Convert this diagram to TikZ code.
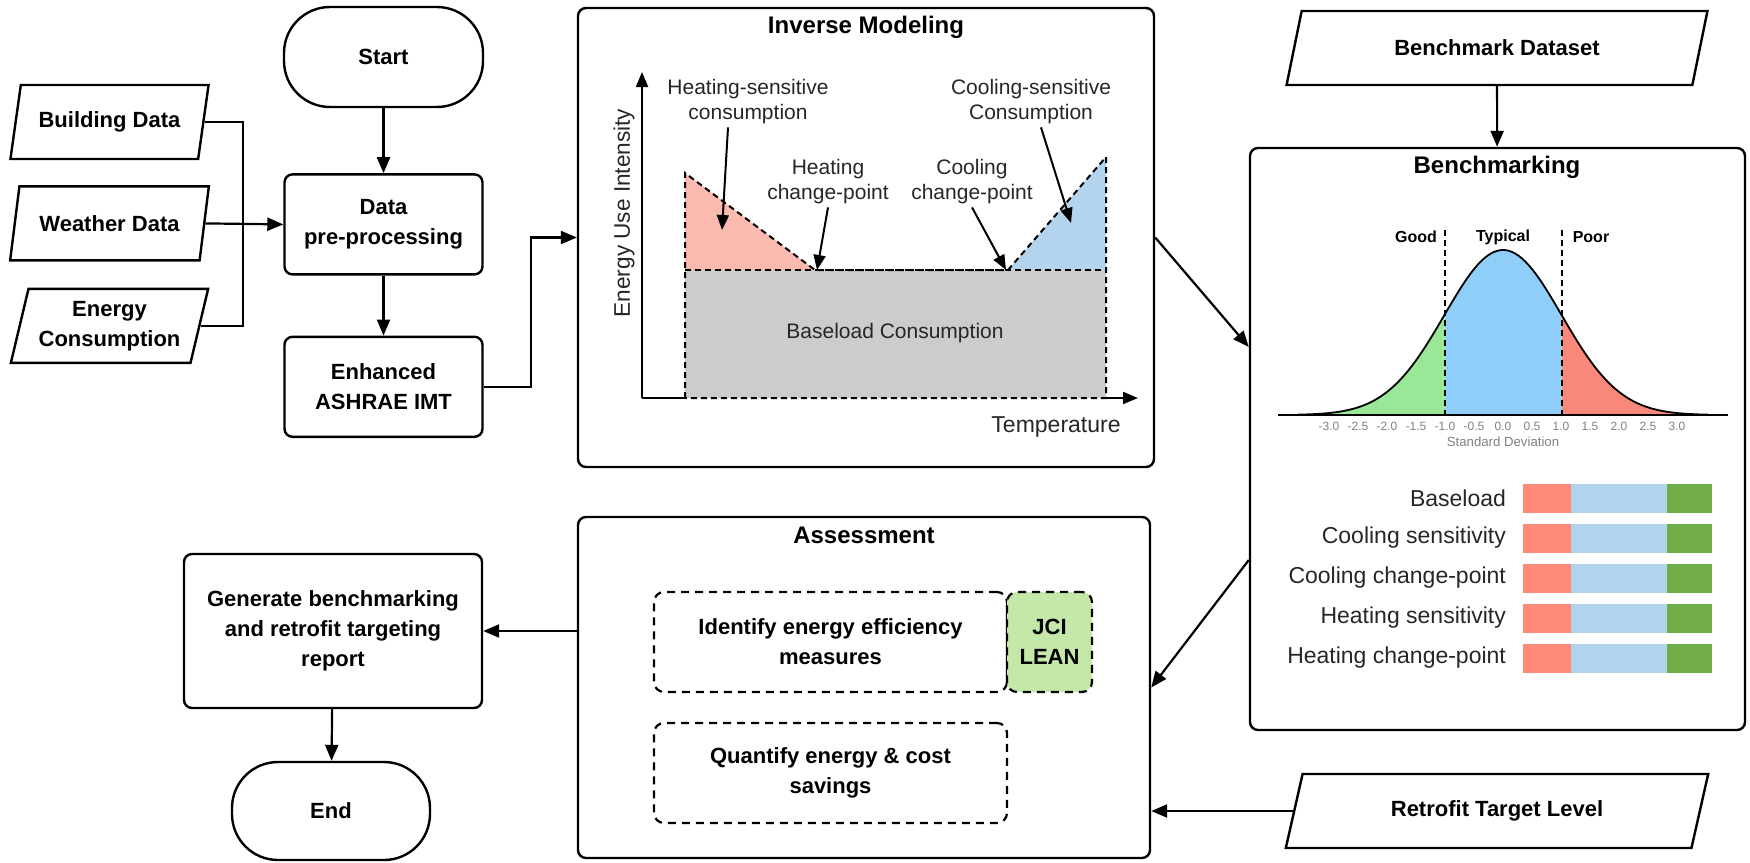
\documentclass[tikz,border=0pt]{standalone}
\usepackage{fontspec}
\setmainfont{Liberation Sans}
\usetikzlibrary{shapes.geometric, arrows.meta, positioning}

\definecolor{heatfill}{RGB}{250,186,176}
\definecolor{coolfill}{RGB}{180,212,238}
\definecolor{basefill}{RGB}{204,204,204}
\definecolor{goodfill}{RGB}{152,232,152}
\definecolor{typfill}{RGB}{144,206,250}
\definecolor{poorfill}{RGB}{248,136,122}
\definecolor{barred}{RGB}{255,138,122}
\definecolor{barblue}{RGB}{176,212,236}
\definecolor{bargreen}{RGB}{112,173,71}
\definecolor{leanfill}{RGB}{197,232,168}

\begin{document}
\begin{tikzpicture}[
  x=0.5pt, y=-0.5pt,
  line width=1.1pt,
  declare function={bell(\t)=415-165*exp(-0.5*(\t)*(\t));},
  every node/.style={align=center, font=\fontsize{11}{15}\selectfont\bfseries},
  terminal/.style={draw, line width=1.2pt, rounded corners=23pt, minimum width=99.5pt, minimum height=50pt},
  process/.style={draw, line width=1.2pt, rounded corners=4pt, minimum width=99pt, minimum height=50pt},
  datain/.style={draw, line width=1.2pt, trapezium, trapezium stretches=true, trapezium left angle=75, trapezium right angle=105, minimum width=99.5pt, minimum height=37pt},
  panel/.style={draw, line width=1.2pt, rounded corners=4pt},
  paneltitle/.style={font=\fontsize{12}{14}\selectfont\bfseries},
  subtask/.style={draw, dash pattern=on 4pt off 3pt, rounded corners=5pt, minimum width=176.5pt, minimum height=50pt},
  chartlabel/.style={font=\fontsize{10.5}{12.5}\selectfont, text=black!85, inner sep=1pt},
  rowlabel/.style={font=\fontsize{11.5}{13}\selectfont, text=black!85, anchor=east, inner sep=1pt},
  ticklabel/.style={font=\fontsize{6}{7}\selectfont, text=black!50, inner sep=0pt},
  arrow/.style={-{Triangle[length=8pt, width=6.5pt]}},
  chartarrow/.style={line width=1pt, -{Triangle[length=7.5pt, width=6pt]}},
  dashline/.style={line width=1pt, dash pattern=on 3pt off 2pt}
]
\useasboundingbox (0,0) rectangle (1750,862);

% left column
\node[terminal] (start) at (383.5,57) {Start};
\node[process, below=32.5pt of start] (prep) {Data\\pre-processing};
\node[process, below=30pt of prep] (imt) {Enhanced\\ASHRAE IMT};

\node[datain] (bdata) at (109.5,122) {Building Data};
\node[datain, below=12.5pt of bdata] (wdata) {Weather Data};
\node[datain, below=13pt of wdata] (edata) {Energy\\Consumption};

% inverse modeling
\node[panel, minimum width=288pt, minimum height=229.5pt] (invbox) at (866,237.5) {};
\node[paneltitle] (invtitle) at (866,27) {Inverse Modeling};

\fill[basefill] (685,270) rectangle (1106,398);
\fill[heatfill] (685,173) -- (815,270) -- (685,270) -- cycle;
\fill[coolfill] (1008,270) -- (1106,157) -- (1106,270) -- cycle;
\draw[dashline] (685,398) -- (685,173) -- (815,270) -- (1008,270) -- (1106,157) -- (1106,398) -- cycle;
\draw[dashline] (685,270) -- (1106,270);

\coordinate (origin) at (642,398);
\draw[chartarrow] (origin) -- (642,72);
\draw (origin) -- (685,398);
\draw[chartarrow] (1106,398) -- (1138,398);

\node[chartlabel, font=\fontsize{11.3}{13}\selectfont, rotate=90] (eui) at (624,213) {Energy Use Intensity};
\node[chartlabel, font=\fontsize{11.5}{13}\selectfont] (temp) at (1056,427) {Temperature};
\node[chartlabel] (base) at (895,333) {Baseload Consumption};
\node[chartlabel] (hsens) at (748,102) {Heating-sensitive\\consumption};
\node[chartlabel] (hcp) at (828,182) {Heating\\change-point};
\node[chartlabel] (ccp) at (972,182) {Cooling\\change-point};
\node[chartlabel] (csens) at (1031,102) {Cooling-sensitive\\Consumption};
\coordinate (hsenstip) at (722,230);
\coordinate (hcptip) at (817,270);
\coordinate (ccptip) at (1006,270);
\coordinate (csenstip) at (1071,223);
\draw[chartarrow] ([xshift=-10pt]hsens.south) -- (hsenstip);
\draw[chartarrow] (hcp.south) -- (hcptip);
\draw[chartarrow] (ccp.south) -- (ccptip);
\draw[chartarrow] ([xshift=5pt]csens.south) -- (csenstip);

% benchmarking
\node[datain, trapezium left angle=74, trapezium right angle=106, minimum width=210.5pt] (bdataset) at (1497,48) {Benchmark Dataset};
\node[panel, minimum width=247.5pt, minimum height=291pt] (benchbox) at (1497.5,439) {};
\node[paneltitle] (benchtitle) at (1497,167) {Benchmarking};

\fill[goodfill] (1503-3.5*58.5,415) -- plot[domain=-3.5:-1, samples=40] ({1503+58.5*\x},{bell(\x)}) -- (1503-58.5,415) -- cycle;
\fill[typfill] (1503-58.5,415) -- plot[domain=-1:1, samples=40] ({1503+58.5*\x},{bell(\x)}) -- (1503+58.5,415) -- cycle;
\fill[poorfill] (1503+58.5,415) -- plot[domain=1:3.5, samples=40] ({1503+58.5*\x},{bell(\x)}) -- (1503+3.5*58.5,415) -- cycle;
\draw[line width=0.9pt] plot[domain=-3.5:3.5, samples=120] ({1503+58.5*\x},{bell(\x)});
\draw[line width=1.2pt] (1278,415) -- (1728,415);
\draw[dashline] (1445,230) -- (1445,415);
\draw[dashline] (1562,230) -- (1562,415);
\node[font=\fontsize{8}{9}\selectfont\bfseries] (good) at (1416,237) {Good};
\node[font=\fontsize{8}{9}\selectfont\bfseries] (typical) at (1503,237) {Typical};
\node[font=\fontsize{8}{9}\selectfont\bfseries] (poor) at (1591,237) {Poor};
\foreach \t [count=\k from -6] in {-3.0,-2.5,-2.0,-1.5,-1.0,-0.5,0.0,0.5,1.0,1.5,2.0,2.5,3.0}
  \node[ticklabel] (tick\k) at ({1503+29*\k},426) {\t};
\node[ticklabel, font=\fontsize{6.6}{8}\selectfont] (sdev) at (1503,442) {Standard Deviation};

\foreach \lab [count=\i] in {Baseload, Cooling sensitivity, Cooling change-point, Heating sensitivity, Heating change-point} {
  \fill[barred] (1523,{443.5+40*\i}) rectangle (1571,{472.5+40*\i});
  \fill[barblue] (1571,{443.5+40*\i}) rectangle (1667,{472.5+40*\i});
  \fill[bargreen] (1667,{443.5+40*\i}) rectangle (1712,{472.5+40*\i});
  \node[rowlabel] (row\i) at (1509,{458+40*\i}) {\lab};
}

% assessment
\node[panel, minimum width=286pt, minimum height=170.5pt] (assess) at (864,687.5) {};
\node[paneltitle] (assesstitle) at (864,535) {Assessment};
\node[subtask] (ident) at (830.5,642) {Identify energy efficiency\\measures};
\node[subtask, fill=leanfill, minimum width=42.5pt] (lean) at (1049.5,642) {JCI\\LEAN};
\node[subtask] (quant) at (830.5,773) {Quantify energy \& cost\\savings};
\node[datain, trapezium left angle=74, trapezium right angle=106, minimum width=211.5pt] (retro) at (1497,811) {Retrofit Target Level};

% report and end
\node[process, minimum width=149pt, minimum height=77pt] (report) at (333,631) {Generate benchmarking\\and retrofit targeting\\report};
\node[terminal, minimum width=99pt, minimum height=49pt] (stop) at (331,811) {End};

% connectors
\draw[arrow] (start) -- (prep);
\draw[arrow] (prep) -- (imt);
\coordinate (merge) at (243,221);
\draw (bdata.east) -| (merge) |- (edata.east);
\draw[arrow] (wdata.east) -- (prep.west);
\draw[arrow] (imt.east) -- ++(47,0) |- (invbox.west);
\draw[arrow] (invbox.east) -- ([yshift=46pt]benchbox.west);
\draw[arrow] ([yshift=-60.5pt]benchbox.west) -- (assess.east);
\draw[arrow] (bdataset) -- (benchbox);
\draw[arrow] (retro.west) -- (retro.west -| assess.east);
\draw[arrow] (report.east -| assess.west) -- (report.east);
\draw[arrow] (report) -- (stop);
\end{tikzpicture}
\end{document}
